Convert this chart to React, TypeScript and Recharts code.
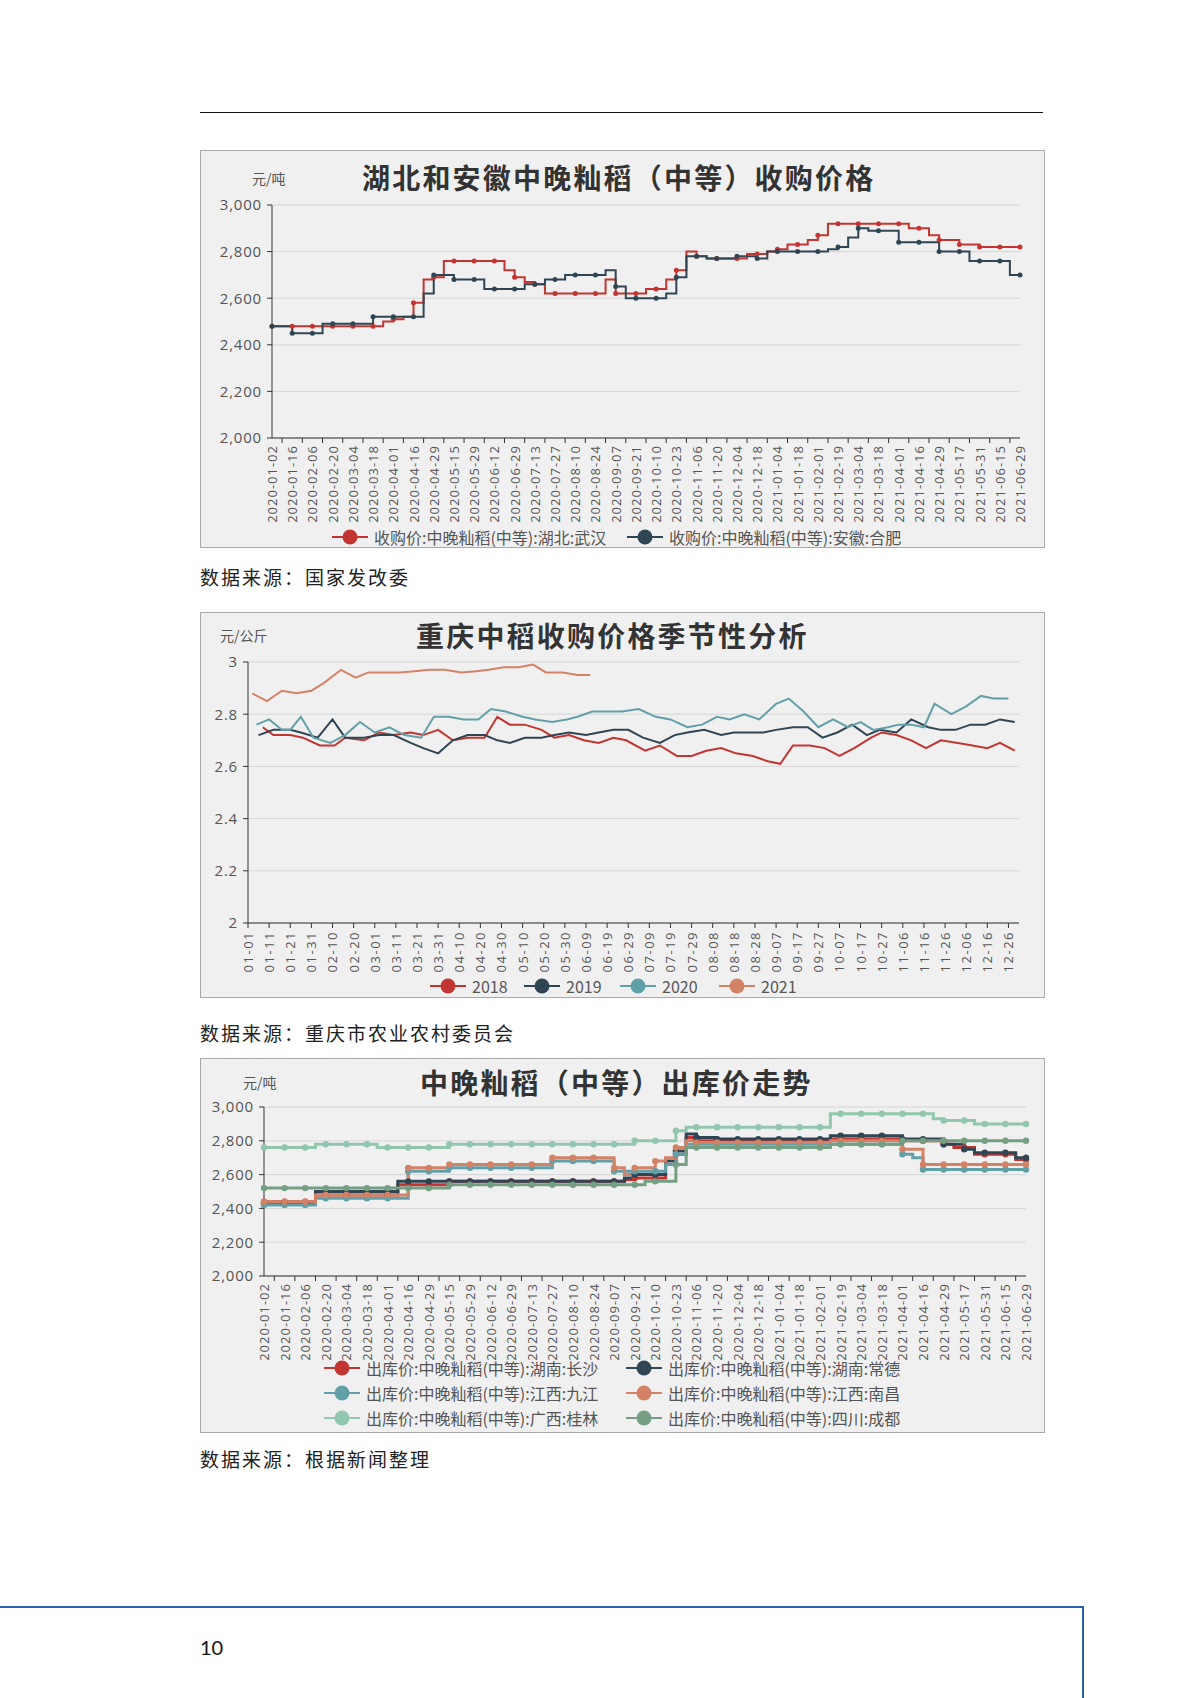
import React from 'react';
import { LineChart, Line, XAxis, YAxis, CartesianGrid } from 'recharts';

const FONT = '"Open Sans", "Noto Sans CJK SC", sans-serif';
const CJK = '"Noto Sans CJK SC", "Open Sans", sans-serif';

const C_RED = '#c23531';
const C_DARK = '#2f4554';
const C_TEAL = '#61a0a8';
const C_ORANGE = '#d48265';
const C_LGREEN = '#91c7ae';
const C_GREEN = '#749f83';

// ---- Chart 1 & 3: labelled dates (every second data point sits on a label) ----
const dateLabels = [
  '2020-01-02', '2020-01-16', '2020-02-06', '2020-02-20', '2020-03-04', '2020-03-18',
  '2020-04-01', '2020-04-16', '2020-04-29', '2020-05-15', '2020-05-29', '2020-06-12',
  '2020-06-29', '2020-07-13', '2020-07-27', '2020-08-10', '2020-08-24', '2020-09-07',
  '2020-09-21', '2020-10-10', '2020-10-23', '2020-11-06', '2020-11-20', '2020-12-04',
  '2020-12-18', '2021-01-04', '2021-01-18', '2021-02-01', '2021-02-19', '2021-03-04',
  '2021-03-18', '2021-04-01', '2021-04-16', '2021-04-29', '2021-05-17', '2021-05-31',
  '2021-06-15', '2021-06-29',
];

// 收购价:中晚籼稻(中等):湖北:武汉
const wuhan = [
  2480, 2480, 2480, 2480, 2480, 2480, 2480, 2480, 2480, 2480, 2480,
  2500, 2510, 2520, 2580, 2680, 2690,
  2760, 2760, 2760, 2760, 2760, 2760,
  2720, 2690, 2670, 2660,
  2620, 2620, 2620, 2620, 2620, 2620,
  2680, 2620, 2620, 2620, 2640, 2640, 2680, 2720, 2800, 2780,
  2770, 2770, 2770, 2770, 2790, 2790, 2800, 2810, 2830, 2830, 2850, 2870,
  2920, 2920, 2920, 2920, 2920, 2920, 2920, 2920,
  2900, 2900, 2870, 2850, 2850, 2830, 2830,
  2820, 2820, 2820, 2820, 2820,
];
// 收购价:中晚籼稻(中等):安徽:合肥
const hefei = [
  2480, 2480, 2450, 2450, 2450, 2490, 2490, 2490, 2490, 2490,
  2520, 2520, 2520, 2520, 2520, 2620, 2700, 2700,
  2680, 2680, 2680, 2640, 2640, 2640, 2640, 2660, 2660, 2680, 2680,
  2700, 2700, 2700, 2700, 2720, 2650, 2600, 2600, 2600, 2600,
  2620, 2690, 2780, 2780, 2770, 2770, 2770, 2780, 2780, 2770,
  2800, 2800, 2800, 2800, 2800, 2800, 2810, 2820, 2860, 2900,
  2890, 2890, 2890, 2840, 2840, 2840, 2840, 2800, 2800, 2800,
  2760, 2760, 2760, 2760, 2700, 2700,
];

// ---- Chart 3: 出库价 ----
const changsha = [
  2440, 2440, 2440, 2440, 2440,
  2480, 2480, 2480, 2480, 2480, 2480, 2480, 2480,
  2540, 2540, 2540, 2540, 2540,
  2560, 2560, 2560, 2560, 2560, 2560, 2560, 2560, 2560, 2560, 2560, 2560, 2560, 2560, 2560, 2560, 2560,
  2570, 2580, 2580, 2580, 2660, 2720, 2820,
  2800, 2800, 2800, 2800, 2800, 2800, 2800, 2800, 2800, 2800, 2800, 2800, 2800,
  2810, 2810, 2810, 2810, 2810, 2810, 2810,
  2800, 2800, 2800, 2800, 2780, 2760, 2760,
  2720, 2720, 2720, 2720, 2690, 2690,
];
const changde = [
  2430, 2430, 2430, 2430, 2430,
  2500, 2500, 2500, 2500, 2500, 2500, 2500, 2500,
  2560, 2560, 2560, 2560, 2560, 2560, 2560, 2560, 2560, 2560, 2560, 2560, 2560, 2560, 2560, 2560, 2560, 2560, 2560, 2560, 2560, 2560,
  2580, 2600, 2600, 2600, 2680, 2740, 2840, 2820, 2820,
  2810, 2810, 2810, 2810, 2810, 2810, 2810, 2810, 2810, 2810, 2810,
  2830, 2830, 2830, 2830, 2830, 2830, 2830,
  2810, 2810, 2810, 2810, 2780, 2780, 2750,
  2730, 2730, 2730, 2730, 2700, 2700,
];
const jiujiang = [
  2420, 2420, 2420, 2420, 2420,
  2460, 2460, 2460, 2460, 2460, 2460, 2460, 2460, 2460,
  2620, 2620, 2620, 2620,
  2640, 2640, 2640, 2640, 2640, 2640, 2640, 2640, 2640, 2640,
  2680, 2680, 2680, 2680, 2680, 2680,
  2620, 2620, 2620, 2620, 2620, 2660, 2720,
  2780, 2780, 2780, 2780, 2780, 2780, 2780, 2780, 2780, 2780, 2780,
  2780, 2780, 2780, 2780, 2780, 2780, 2780, 2780, 2780, 2780,
  2720, 2700,
  2630, 2630, 2630, 2630, 2630, 2630, 2630, 2630, 2630, 2630, 2630,
];
const nanchang = [
  2440, 2440, 2440, 2440, 2440,
  2480, 2480, 2480, 2480, 2480, 2480, 2480, 2480, 2480,
  2640, 2640, 2640, 2640,
  2660, 2660, 2660, 2660, 2660, 2660, 2660, 2660, 2660, 2660,
  2700, 2700, 2700, 2700, 2700, 2700,
  2640, 2600, 2640, 2640, 2680, 2700, 2760, 2800,
  2790, 2790, 2790, 2790, 2790, 2790, 2790, 2790, 2790, 2790, 2790, 2790, 2790,
  2800, 2800, 2800, 2800, 2800, 2800, 2800,
  2750, 2750,
  2660, 2660, 2660, 2660, 2660, 2660, 2660, 2660, 2660, 2660, 2660,
];
const guilin = [
  2760, 2760, 2760, 2760, 2760,
  2780, 2780, 2780, 2780, 2780, 2780,
  2760, 2760, 2760, 2760, 2760, 2760, 2760,
  2780, 2780, 2780, 2780, 2780, 2780, 2780, 2780, 2780, 2780, 2780, 2780, 2780, 2780, 2780, 2780, 2780, 2780,
  2800, 2800, 2800, 2800, 2860,
  2880, 2880, 2880, 2880, 2880, 2880, 2880, 2880, 2880, 2880, 2880, 2880, 2880, 2880,
  2960, 2960, 2960, 2960, 2960, 2960, 2960, 2960, 2960, 2960,
  2930, 2920, 2920, 2920,
  2900, 2900, 2900, 2900, 2900, 2900,
];
const chengdu = [
  2520, 2520, 2520, 2520, 2520, 2520, 2520, 2520, 2520, 2520, 2520, 2520, 2520, 2520, 2520, 2520, 2520, 2520,
  2540, 2540, 2540, 2540, 2540, 2540, 2540, 2540, 2540, 2540, 2540, 2540, 2540, 2540, 2540, 2540, 2540, 2540, 2540,
  2560, 2560, 2560, 2660,
  2760, 2760, 2760, 2760, 2760, 2760, 2760, 2760, 2760, 2760, 2760, 2760, 2760, 2760,
  2780, 2780, 2780, 2780, 2780, 2780, 2780,
  2800, 2800, 2800, 2800, 2800, 2800, 2800, 2800, 2800, 2800, 2800, 2800, 2800,
];

// ---- Chart 2: 重庆中稻收购价格季节性 (x = day of year, 02-29 included) ----
const dayLabels = [
  '01-01', '01-11', '01-21', '01-31', '02-10', '02-20', '03-01', '03-11', '03-21', '03-31',
  '04-10', '04-20', '04-30', '05-10', '05-20', '05-30', '06-09', '06-19', '06-29', '07-09',
  '07-19', '07-29', '08-08', '08-18', '08-28', '09-07', '09-17', '09-27', '10-07', '10-17',
  '10-27', '11-06', '11-16', '11-26', '12-06', '12-16', '12-26',
];
const y2018: [number, number][] = [
  [7, 2.75], [12, 2.72], [20, 2.72], [26, 2.71], [34, 2.68], [41, 2.68], [46, 2.71], [55, 2.70],
  [62, 2.73], [69, 2.72], [77, 2.73], [83, 2.72], [90, 2.74], [97, 2.70], [104, 2.71], [112, 2.71],
  [118, 2.79], [124, 2.76], [131, 2.76], [139, 2.74], [145, 2.71], [152, 2.72], [159, 2.70], [166, 2.69],
  [173, 2.71], [179, 2.70], [188, 2.66], [195, 2.68], [203, 2.64], [210, 2.64], [217, 2.66], [224, 2.67],
  [231, 2.65], [239, 2.64], [246, 2.62], [252, 2.61], [258, 2.68], [266, 2.68], [273, 2.67], [280, 2.64],
  [287, 2.67], [295, 2.71], [300, 2.73], [307, 2.72], [314, 2.70], [321, 2.67], [328, 2.70], [336, 2.69],
  [343, 2.68], [350, 2.67], [356, 2.69], [363, 2.66],
];
const y2019: [number, number][] = [
  [5, 2.72], [12, 2.74], [20, 2.74], [25, 2.73], [33, 2.71], [40, 2.78], [46, 2.71], [55, 2.71],
  [62, 2.72], [69, 2.72], [77, 2.69], [83, 2.67], [90, 2.65], [97, 2.70], [104, 2.72], [112, 2.72],
  [118, 2.70], [124, 2.69], [131, 2.71], [139, 2.71], [145, 2.72], [152, 2.73], [160, 2.72], [166, 2.73],
  [173, 2.74], [180, 2.74], [187, 2.71], [195, 2.69], [202, 2.72], [208, 2.73], [216, 2.74], [224, 2.72],
  [230, 2.73], [238, 2.73], [244, 2.73], [250, 2.74], [258, 2.75], [265, 2.75], [272, 2.71], [279, 2.73],
  [286, 2.76], [293, 2.72], [299, 2.74], [307, 2.73], [314, 2.78], [322, 2.75], [328, 2.74], [335, 2.74],
  [342, 2.76], [349, 2.76], [356, 2.78], [363, 2.77],
];
const y2020: [number, number][] = [
  [4, 2.76], [10, 2.78], [16, 2.74], [20, 2.74], [25, 2.79], [31, 2.71], [39, 2.69], [46, 2.72],
  [53, 2.77], [60, 2.73], [67, 2.75], [74, 2.72], [82, 2.71], [88, 2.79], [95, 2.79], [102, 2.78],
  [109, 2.78], [115, 2.82], [122, 2.81], [130, 2.79], [136, 2.78], [144, 2.77], [151, 2.78], [156, 2.79],
  [163, 2.81], [171, 2.81], [177, 2.81], [185, 2.82], [193, 2.79], [200, 2.78], [208, 2.75], [215, 2.76],
  [222, 2.79], [228, 2.78], [235, 2.80], [242, 2.78], [250, 2.84], [256, 2.86], [263, 2.81], [270, 2.75],
  [277, 2.78], [284, 2.75], [290, 2.77], [296, 2.74], [303, 2.75], [308, 2.76], [314, 2.76], [320, 2.75],
  [325, 2.84], [333, 2.80], [340, 2.83], [347, 2.87], [353, 2.86], [360, 2.86],
];
const y2021: [number, number][] = [
  [2, 2.88], [9, 2.85], [16, 2.89], [23, 2.88], [30, 2.89], [36, 2.92], [44, 2.97], [51, 2.94],
  [57, 2.96], [64, 2.96], [72, 2.96], [79, 2.965], [86, 2.97], [93, 2.97], [101, 2.96], [108, 2.965],
  [114, 2.97], [121, 2.98], [128, 2.98], [135, 2.99], [141, 2.96], [149, 2.96], [156, 2.95], [162, 2.95],
];

const priceTicks = [2000, 2200, 2400, 2600, 2800, 3000];
const ticks2Y = [2, 2.2, 2.4, 2.6, 2.8, 3];

const idxTicks = wuhan.map((_, i) => i);
const dayTicks = dayLabels.map((_, i) => i * 10);

const data1 = wuhan.map((v, i) => ({ i, wuhan: v, hefei: hefei[i] }));
const data3 = changsha.map((v, i) => ({
  i, changsha: v, changde: changde[i], jiujiang: jiujiang[i],
  nanchang: nanchang[i], guilin: guilin[i], chengdu: chengdu[i],
}));
const toPts = (arr: [number, number][]) => arr.map(([d, v]) => ({ d, v }));

const fmtThousands = (v: number) => v.toLocaleString('en-US');

const DateTick = (p: any) => {
  const k = Number(p.payload.value);
  if (k % 2 === 1) {
    return <line x1={p.x} y1={p.y} x2={p.x} y2={p.y + 5} stroke="#333" strokeWidth={1} />;
  }
  return (
    <text
      transform={`translate(${p.x},${p.y + 7}) rotate(-90)`}
      textAnchor="end"
      dominantBaseline="central"
      fontSize={13}
      fill="#555"
      fontFamily={FONT}
      style={{ letterSpacing: '1px' }}
    >
      {dateLabels[k / 2]}
    </text>
  );
};

const DayTick = (p: any) => {
  const idx = Math.round(Number(p.payload.value) / 10);
  return (
    <text
      transform={`translate(${p.x},${p.y}) rotate(-90)`}
      textAnchor="end"
      dominantBaseline="central"
      fontSize={13}
      fill="#555"
      fontFamily={FONT}
      style={{ letterSpacing: '1.5px' }}
    >
      {dayLabels[idx]}
    </text>
  );
};

const evenDot = (color: string, r: number) => (p: any) =>
  p.index % 2 === 0 ? (
    <circle key={`d${p.index}`} cx={p.cx} cy={p.cy} r={r} fill={color} stroke="none" />
  ) : (
    <g key={`d${p.index}`} />
  );

const yTick = { fill: '#555', fontSize: 15, fontFamily: FONT, letterSpacing: '0.8px' } as any;

function Box({ top, height }: { top: number; height: number }) {
  return (
    <div
      style={{
        position: 'absolute', left: 200, top, width: 845, height,
        boxSizing: 'border-box', border: '1px solid #a9a9a9', background: '#f0f0f0',
      }}
    />
  );
}

function Title({ left, cy, text }: { left: number; cy: number; text: string }) {
  return (
    <div
      style={{
        position: 'absolute', left, top: cy - 19, height: 38, lineHeight: '38px',
        fontSize: 28, fontWeight: 700, letterSpacing: '2.2px', color: '#333',
        fontFamily: CJK, whiteSpace: 'nowrap',
      }}
    >
      {text}
    </div>
  );
}

function Unit({ left, cy, text }: { left: number; cy: number; text: string }) {
  return (
    <div
      style={{
        position: 'absolute', left, top: cy - 10, height: 20, lineHeight: '20px',
        fontSize: 14, color: '#555', fontFamily: CJK, whiteSpace: 'nowrap',
      }}
    >
      {text}
    </div>
  );
}

function LegendItem({ cx, cy, color, label }: { cx: number; cy: number; color: string; label: string }) {
  return (
    <div
      style={{
        position: 'absolute', left: cx - 18, top: cy - 10, height: 20,
        display: 'flex', alignItems: 'center', whiteSpace: 'nowrap',
      }}
    >
      <svg width={36} height={20} style={{ display: 'block' }}>
        <line x1={0} y1={10} x2={36} y2={10} stroke={color} strokeWidth={2} />
        <circle cx={18} cy={10} r={7.5} fill={color} />
      </svg>
      <span style={{ marginLeft: 6, fontSize: 16, color: '#555', fontFamily: CJK, lineHeight: '20px' }}>
        {label}
      </span>
    </div>
  );
}

function Source({ cy, text }: { cy: number; text: string }) {
  return (
    <div
      style={{
        position: 'absolute', left: 200, top: cy - 14, height: 28, lineHeight: '28px',
        fontSize: 19, letterSpacing: '2px', color: '#222', fontFamily: CJK, whiteSpace: 'nowrap',
      }}
    >
      {text}
    </div>
  );
}

export default function App() {
  return (
    <div style={{ position: 'absolute', left: 0, top: 0, width: 1200, height: 1698, background: '#fff', overflow: 'hidden' }}>
      {/* header rule */}
      <div style={{ position: 'absolute', left: 200, top: 112, width: 843, height: 0, borderTop: '1.5px solid #111' }} />

      {/* ---------------- Chart 1 ---------------- */}
      <Box top={150} height={398} />
      <div style={{ position: 'absolute', left: 200, top: 150 }}>
        <LineChart width={845} height={398} data={data1} margin={{ top: 55, right: 25, left: 12, bottom: 10 }}>
          <CartesianGrid vertical={false} stroke="#d6d6d6" />
          <XAxis
            dataKey="i" type="number" domain={[0, 74]} ticks={idxTicks} interval={0}
            tick={DateTick} tickLine={false} tickSize={0} tickMargin={0} height={100}
            axisLine={{ stroke: '#333' }} allowDecimals={false}
          />
          <YAxis
            domain={[2000, 3000]} ticks={priceTicks} width={60} tick={yTick}
            tickFormatter={fmtThousands} tickSize={5} tickMargin={5}
            tickLine={{ stroke: '#333' }} axisLine={{ stroke: '#333' }}
          />
          <Line type="stepAfter" dataKey="wuhan" stroke={C_RED} strokeWidth={2} dot={evenDot(C_RED, 2.5)} activeDot={false} isAnimationActive={false} />
          <Line type="stepAfter" dataKey="hefei" stroke={C_DARK} strokeWidth={2} dot={evenDot(C_DARK, 2.5)} activeDot={false} isAnimationActive={false} />
        </LineChart>
      </div>
      <Title left={362} cy={177} text="湖北和安徽中晚籼稻（中等）收购价格" />
      <Unit left={252} cy={178} text="元/吨" />
      <LegendItem cx={350} cy={537} color={C_RED} label="收购价:中晚籼稻(中等):湖北:武汉" />
      <LegendItem cx={645} cy={537} color={C_DARK} label="收购价:中晚籼稻(中等):安徽:合肥" />
      <Source cy={577} text="数据来源：国家发改委" />

      {/* ---------------- Chart 2 ---------------- */}
      <Box top={612} height={386} />
      <div style={{ position: 'absolute', left: 200, top: 612 }}>
        <LineChart width={845} height={386} margin={{ top: 50, right: 26, left: 8, bottom: 20 }}>
          <CartesianGrid vertical={false} stroke="#d6d6d6" />
          <XAxis
            dataKey="d" type="number" domain={[0, 365]} ticks={dayTicks} interval={0}
            tick={DayTick} tickSize={5} tickMargin={3} height={55}
            tickLine={{ stroke: '#333' }} axisLine={{ stroke: '#333' }} allowDataOverflow
          />
          <YAxis
            domain={[2, 3]} ticks={ticks2Y} width={40} tick={yTick}
            tickFormatter={(v: number) => String(v)} tickSize={5} tickMargin={5}
            tickLine={{ stroke: '#333' }} axisLine={{ stroke: '#333' }}
          />
          <Line data={toPts(y2018)} dataKey="v" stroke={C_RED} strokeWidth={2} dot={false} activeDot={false} isAnimationActive={false} />
          <Line data={toPts(y2019)} dataKey="v" stroke={C_DARK} strokeWidth={2} dot={false} activeDot={false} isAnimationActive={false} />
          <Line data={toPts(y2020)} dataKey="v" stroke={C_TEAL} strokeWidth={2} dot={false} activeDot={false} isAnimationActive={false} />
          <Line data={toPts(y2021)} dataKey="v" stroke={C_ORANGE} strokeWidth={2} dot={false} activeDot={false} isAnimationActive={false} />
        </LineChart>
      </div>
      <Title left={416} cy={635} text="重庆中稻收购价格季节性分析" />
      <Unit left={220} cy={635} text="元/公斤" />
      <LegendItem cx={448} cy={986} color={C_RED} label="2018" />
      <LegendItem cx={542} cy={986} color={C_DARK} label="2019" />
      <LegendItem cx={638} cy={986} color={C_TEAL} label="2020" />
      <LegendItem cx={737} cy={986} color={C_ORANGE} label="2021" />
      <Source cy={1033} text="数据来源：重庆市农业农村委员会" />

      {/* ---------------- Chart 3 ---------------- */}
      <Box top={1058} height={375} />
      <div style={{ position: 'absolute', left: 200, top: 1058 }}>
        <LineChart width={845} height={375} data={data3} margin={{ top: 49, right: 19, left: 9, bottom: 57 }}>
          <CartesianGrid vertical={false} stroke="#d6d6d6" />
          <XAxis
            dataKey="i" type="number" domain={[0, 74]} ticks={idxTicks} interval={0}
            tick={DateTick} tickLine={false} tickSize={0} tickMargin={0} height={100}
            axisLine={{ stroke: '#333' }} allowDecimals={false}
          />
          <YAxis
            domain={[2000, 3000]} ticks={priceTicks} width={55} tick={yTick}
            tickFormatter={fmtThousands} tickSize={5} tickMargin={5}
            tickLine={{ stroke: '#333' }} axisLine={{ stroke: '#333' }}
          />
          <Line type="stepAfter" dataKey="changsha" stroke={C_RED} strokeWidth={3} dot={evenDot(C_RED, 3.2)} activeDot={false} isAnimationActive={false} />
          <Line type="stepAfter" dataKey="changde" stroke={C_DARK} strokeWidth={3} dot={evenDot(C_DARK, 3.2)} activeDot={false} isAnimationActive={false} />
          <Line type="stepAfter" dataKey="jiujiang" stroke={C_TEAL} strokeWidth={3} dot={evenDot(C_TEAL, 3.2)} activeDot={false} isAnimationActive={false} />
          <Line type="stepAfter" dataKey="nanchang" stroke={C_ORANGE} strokeWidth={3} dot={evenDot(C_ORANGE, 3.2)} activeDot={false} isAnimationActive={false} />
          <Line type="stepAfter" dataKey="guilin" stroke={C_LGREEN} strokeWidth={3} dot={evenDot(C_LGREEN, 3.2)} activeDot={false} isAnimationActive={false} />
          <Line type="stepAfter" dataKey="chengdu" stroke={C_GREEN} strokeWidth={3} dot={evenDot(C_GREEN, 3.2)} activeDot={false} isAnimationActive={false} />
        </LineChart>
      </div>
      <Title left={420} cy={1082} text="中晚籼稻（中等）出库价走势" />
      <Unit left={243} cy={1082} text="元/吨" />
      <LegendItem cx={342} cy={1368} color={C_RED} label="出库价:中晚籼稻(中等):湖南:长沙" />
      <LegendItem cx={644} cy={1368} color={C_DARK} label="出库价:中晚籼稻(中等):湖南:常德" />
      <LegendItem cx={342} cy={1393} color={C_TEAL} label="出库价:中晚籼稻(中等):江西:九江" />
      <LegendItem cx={644} cy={1393} color={C_ORANGE} label="出库价:中晚籼稻(中等):江西:南昌" />
      <LegendItem cx={342} cy={1418} color={C_LGREEN} label="出库价:中晚籼稻(中等):广西:桂林" />
      <LegendItem cx={644} cy={1418} color={C_GREEN} label="出库价:中晚籼稻(中等):四川:成都" />
      <Source cy={1459} text="数据来源：根据新闻整理" />

      {/* footer */}
      <div style={{ position: 'absolute', left: 0, top: 1606, width: 1084, height: 2, background: '#2a62ad' }} />
      <div style={{ position: 'absolute', left: 1082, top: 1606, width: 2, height: 92, background: '#2a62ad' }} />
      <div
        style={{
          position: 'absolute', left: 200, top: 1635, height: 24, lineHeight: '24px',
          fontSize: 20, color: '#111', fontFamily: 'Lato, "Liberation Sans", sans-serif',
        }}
      >
        10
      </div>
    </div>
  );
}
